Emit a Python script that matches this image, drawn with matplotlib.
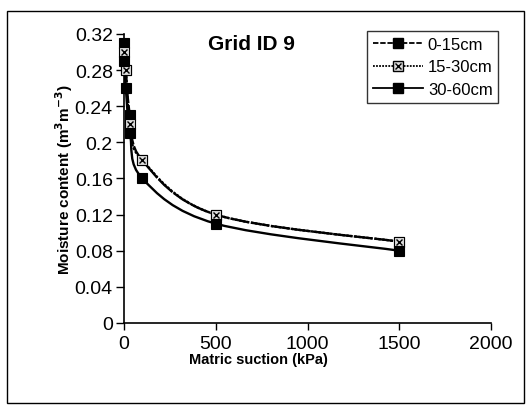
import numpy as np
import matplotlib
matplotlib.use("Agg")
import matplotlib.pyplot as plt
from matplotlib.path import Path
from matplotlib.patches import PathPatch, Rectangle
from matplotlib.lines import Line2D

plt.rcParams['font.family'] = ['Liberation Sans', 'DejaVu Sans']

# matric suction (kPa) and moisture content (m3 m-3)
suction = [0, 10, 33, 100, 500, 1500]
depth_0_15 = [0.31, 0.28, 0.23, 0.18, 0.12, 0.09]
depth_15_30 = [0.30, 0.28, 0.22, 0.18, 0.12, 0.09]
depth_30_60 = [0.29, 0.26, 0.21, 0.16, 0.11, 0.08]
labels = ['0-15cm', '15-30cm', '30-60cm']

XMAX, YMAX = 2000, 0.32


def smooth_path(xs, ys, ax_w, ax_h):
    """Excel-like smoothed line: Catmull-Rom converted to cubic Bezier segments."""
    px = np.asarray(xs, float) / XMAX * ax_w
    py = np.asarray(ys, float) / YMAX * ax_h
    pts = np.column_stack([px, py])
    n = len(pts)
    verts = [pts[0]]
    codes = [Path.MOVETO]
    for i in range(n - 1):
        p0 = pts[i - 1] if i > 0 else pts[i]
        p1, p2 = pts[i], pts[i + 1]
        p3 = pts[i + 2] if i + 2 < n else pts[i + 1]
        c1 = p1 + (p2 - p0) / 6.0
        c2 = p2 - (p3 - p1) / 6.0
        verts += [c1, c2, p2]
        codes += [Path.CURVE4] * 3
    verts = np.array(verts)
    verts[:, 0] = verts[:, 0] / ax_w * XMAX
    verts[:, 1] = verts[:, 1] / ax_h * YMAX
    return Path(verts, codes)


fig = plt.figure(figsize=(5.26, 4.06), dpi=100)
ax = fig.add_axes([0.2357, 0.202, 0.698, 0.712])

# outer chart border
fig.patches.append(Rectangle((0.013, 0.005), 0.984, 0.965, transform=fig.transFigure,
                             fill=False, edgecolor='black', linewidth=1.0))

ax_w, ax_h = 0.698 * 526, 0.712 * 406
# plot curves overlap, so the upper pair reads as almost solid in the scan
curve_styles = [(0, (8, 0.8)), (0, (1, 0.7)), '-']
legend_styles = [(0, (3, 1)), (0, (1, 0.7)), '-']
series = [depth_0_15, depth_15_30, depth_30_60]

for vals, ls in zip(series, curve_styles):
    ax.add_patch(PathPatch(smooth_path(suction, vals, ax_w, ax_h), fill=False,
                           edgecolor='black', linewidth=1.7, linestyle=ls, zorder=3))

mk = dict(linestyle='none', markersize=7, markeredgewidth=0.8, zorder=4, clip_on=False)
ax.plot(suction, depth_0_15, marker='s', color='black', **mk)
ax.plot(suction, depth_15_30, marker='s', markerfacecolor='#dddddd',
        markeredgecolor='black', **mk)
ax.plot(suction, depth_15_30, marker='x', color='black', linestyle='none',
        markersize=5, markeredgewidth=1.0, zorder=5, clip_on=False)
ax.plot(suction, depth_30_60, marker='s', color='black', **mk)

h1 = Line2D([], [], color='black', lw=1.3, ls=legend_styles[0], marker='s', markersize=7)
h2a = Line2D([], [], color='black', lw=1.3, ls=legend_styles[1], marker='s', markersize=7,
             markerfacecolor='#dddddd', markeredgecolor='black')
h2b = Line2D([], [], color='black', lw=0, marker='x', markersize=5, markeredgewidth=1.0)
h3 = Line2D([], [], color='black', lw=1.3, ls='-', marker='s', markersize=7)

ax.set_xlim(0, XMAX)
ax.set_ylim(0, YMAX)
ax.set_xticks([0, 500, 1000, 1500, 2000])
ax.set_yticks(np.arange(0, 0.321, 0.04))
ax.set_yticklabels(['0', '0.04', '0.08', '0.12', '0.16', '0.2', '0.24', '0.28', '0.32'])
ax.tick_params(axis='y', labelsize=14, direction='out', length=6, width=1, pad=2)
ax.tick_params(axis='x', labelsize=14, direction='out', length=5, width=1, pad=4)
for side in ['top', 'right']:
    ax.spines[side].set_visible(False)
for side in ['left', 'bottom']:
    ax.spines[side].set_linewidth(1.2)

ax.set_xlabel('Matric suction (kPa)', fontsize=10.5, fontweight='bold', labelpad=0)
ax.xaxis.label.set_x(0.365)
ax.set_ylabel('Moisture content (m$^\\mathbf{3}$m$^\\mathbf{-3}$)', fontsize=11,
              fontweight='bold', labelpad=0)
ax.text(0.346, 1.0, 'Grid ID 9', transform=ax.transAxes, fontsize=15,
        fontweight='bold', ha='center', va='top')

leg = ax.legend(handles=[h1, (h2a, h2b), h3], labels=labels, loc='upper left',
                bbox_to_anchor=(0.662, 1.01), borderaxespad=0,
                fontsize=12, frameon=True, fancybox=False, edgecolor='black',
                handlelength=3.0, handletextpad=0.3, borderpad=0.35, labelspacing=0.45)
leg.get_frame().set_linewidth(1.0)

fig.savefig('out.png', dpi=100)
